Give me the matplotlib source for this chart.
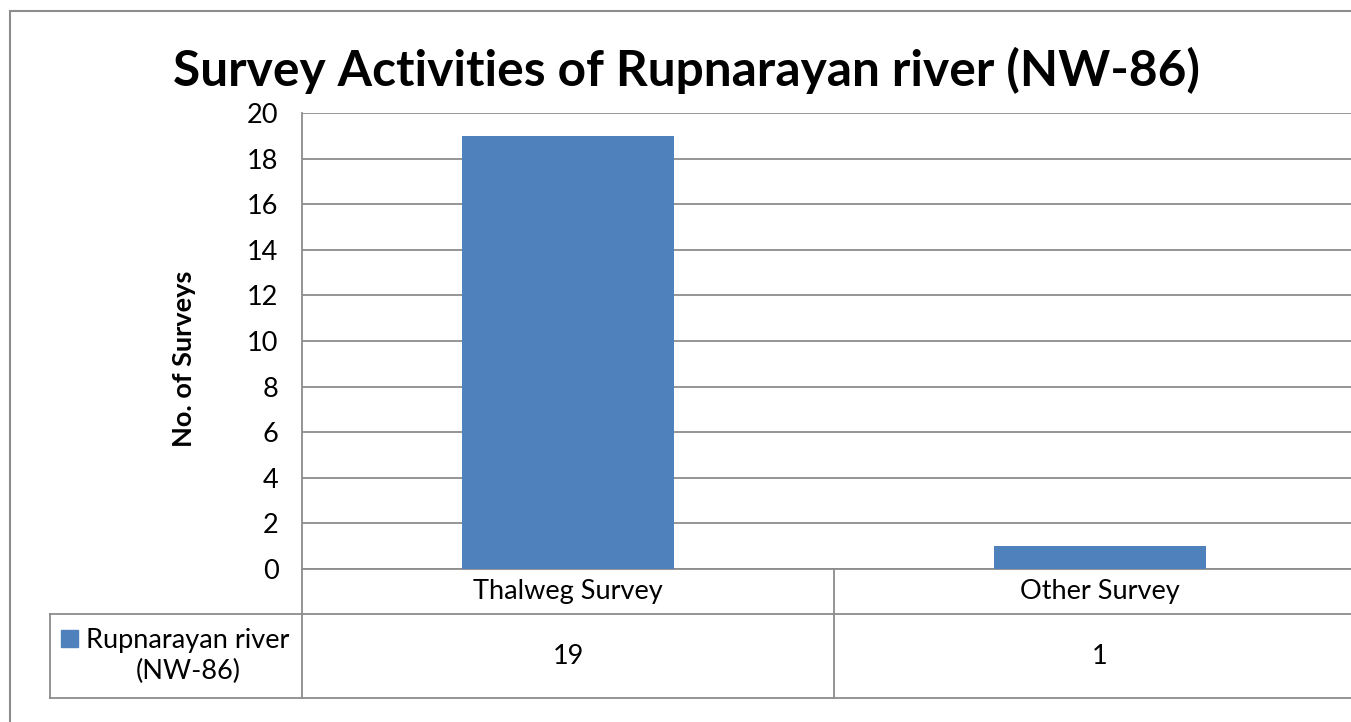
import numpy as np
import matplotlib.pyplot as plt
from matplotlib.patches import Rectangle
from matplotlib.lines import Line2D
import matplotlib.transforms as mtransforms

plt.rcParams['font.family'] = ['Lato', 'DejaVu Sans']

categories = ["Thalweg Survey", "Other Survey"]
values = [19, 1]
series_name = "Rupnarayan river\n(NW-86)"
yticks = np.arange(0, 21, 2)

W, H = 1351, 722
GREY = '#8c8c8c'
BLUE = '#4f81bd'
FS = 19.5

def fx(px):
    return px / W

def fy(py):
    return 1 - py / H

fig = plt.figure(figsize=(W / 100, H / 100), dpi=100)

# outer chart frame (right and bottom are cropped in the original)
frame = Rectangle((fx(10), fy(760)), fx(1400), (760 - 11) / H,
                  transform=fig.transFigure, fill=False, edgecolor=GREY,
                  linewidth=1.5, clip_on=False)
fig.patches.append(frame)

# plot area: left 302px, top 113px, bottom 569px, right beyond the crop
ax = fig.add_axes([fx(302), fy(569), fx(1366 - 302), (569 - 113) / H])
x = np.arange(len(categories))
ax.bar(x, values, width=0.4, color=BLUE, zorder=3)
ax.set_xlim(-0.5, len(categories) - 0.5)
ax.set_ylim(0, 20)
ax.set_yticks(yticks)
ax.set_yticklabels([str(t) for t in yticks], fontsize=FS)
ax.set_xticks([])
ax.grid(axis='y', color=GREY, linewidth=1.3, zorder=0)
for s in ['top', 'right']:
    ax.spines[s].set_visible(False)
ax.spines['left'].set_color(GREY)
ax.spines['bottom'].set_color(GREY)
ax.spines['left'].set_linewidth(1.3)
ax.spines['bottom'].set_linewidth(1.3)
ax.tick_params(axis='y', length=0, pad=17)
ax.set_ylabel("No. of Surveys", fontsize=FS, fontweight='bold')
ax.yaxis.set_label_coords(-0.0996, 0.46)

fig.text(0.508, fy(70), "Survey Activities of Rupnarayan river (NW-86)",
         ha='center', va='center', fontsize=35.7, fontweight='bold')

# data table below the plot area
trans = mtransforms.blended_transform_factory(ax.transData, fig.transFigure)
row1, row2, row3 = fy(569), fy(614), fy(698)
for b in np.arange(len(categories) + 1) - 0.5:
    ax.add_line(Line2D([b, b], [row1, row3], transform=trans, color=GREY,
                       linewidth=1.3, clip_on=False))
fig.add_artist(Line2D([fx(50), 1.0], [row2, row2], color=GREY, linewidth=1.3))
fig.add_artist(Line2D([fx(50), 1.0], [row3, row3], color=GREY, linewidth=1.3))
fig.add_artist(Line2D([fx(50), fx(50)], [row2, row3], color=GREY, linewidth=1.3))

for xi, cat, v in zip(x, categories, values):
    ax.text(xi, fy(592), cat, transform=trans, ha='center',
            va='center', fontsize=FS)
    ax.text(xi, (row2 + row3) / 2, str(v), transform=trans, ha='center',
            va='center', fontsize=FS)

# legend key inside the table
fig.patches.append(Rectangle((fx(61), fy(647)), fx(17), 17 / H, color=BLUE,
                             transform=fig.transFigure))
fig.text(fx(188), (row2 + row3) / 2, series_name, ha='center', va='center',
         fontsize=FS, linespacing=1.3)

fig.savefig("out.png", dpi=100)
